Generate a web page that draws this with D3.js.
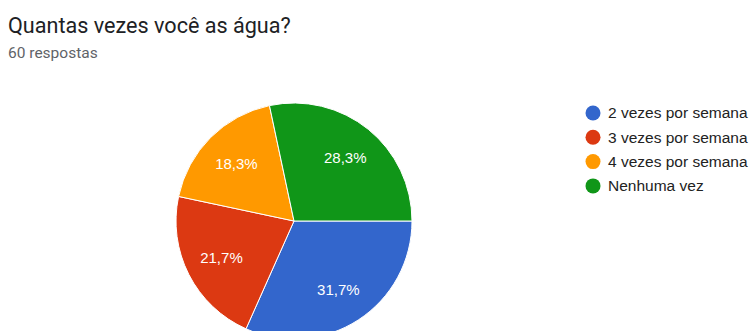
<!DOCTYPE html>
<html><head><meta charset="utf-8">
<script src="https://cdn.jsdelivr.net/npm/d3@7"></script>
<style>html,body{margin:0;padding:0;background:#fff;overflow:hidden}</style>
</head><body>
<svg id="c" width="753" height="331"></svg>
<script>
const categories = ["2 vezes por semana", "3 vezes por semana", "4 vezes por semana", "Nenhuma vez"];
const values = [19, 13, 11, 17];
const labels = ["31,7%", "21,7%", "18,3%", "28,3%"];
const colors = ["#3366CC", "#DC3912", "#FF9900", "#109618"];

const svg = d3.select("#c");
svg.append("text").attr("x", 8).attr("y", 33)
  .attr("font-family", "Roboto, 'Open Sans', sans-serif").attr("font-size", 21.6)
  .attr("fill", "#202124").text("Quantas vezes você as água?");
svg.append("text").attr("x", 8).attr("y", 57.5)
  .attr("font-family", "Roboto, sans-serif").attr("font-size", 15.5)
  .attr("fill", "#5f6368").text("60 respostas");

const cx = 294, cy = 221, r = 118;
const pie = d3.pie().sort(null).value(d => d)
  .startAngle(Math.PI / 2).endAngle(Math.PI / 2 + 2 * Math.PI);
const arcs = pie(values);
const arc = d3.arc().innerRadius(0).outerRadius(r);
const labelArc = d3.arc().innerRadius(r * 0.69).outerRadius(r * 0.69);
const g = svg.append("g").attr("transform", `translate(${cx},${cy})`);
g.selectAll("path").data(arcs).enter().append("path")
  .attr("d", arc).attr("fill", (d, i) => colors[i])
  .attr("stroke", "#fff").attr("stroke-width", 1);
g.selectAll("text").data(arcs).enter().append("text")
  .attr("transform", d => `translate(${labelArc.centroid(d)})`)
  .attr("text-anchor", "middle").attr("dy", "0.35em")
  .attr("font-family", "'Liberation Sans', Arial, sans-serif").attr("font-size", 15)
  .attr("fill", "#fff").text((d, i) => labels[i]);

const leg = svg.append("g").attr("transform", "translate(593,113)");
const items = leg.selectAll("g").data(categories).enter().append("g")
  .attr("transform", (d, i) => `translate(0,${i * 24.3})`);
items.append("circle").attr("r", 7.5).attr("fill", (d, i) => colors[i]);
items.append("text").attr("x", 15).attr("dy", "0.35em")
  .attr("font-family", "'Liberation Sans', Arial, sans-serif").attr("font-size", 15.5)
  .attr("fill", "#222").text(d => d);
</script>
</body></html>
